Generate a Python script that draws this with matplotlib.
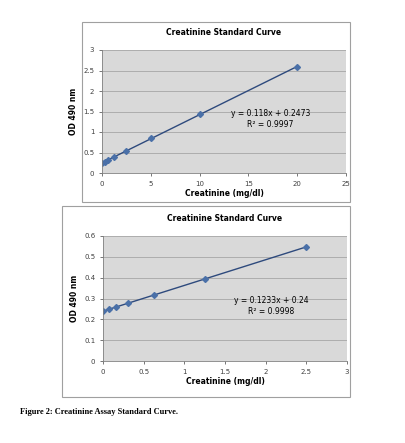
import numpy as np
import matplotlib.pyplot as plt
from matplotlib.patches import Rectangle

top_x = [0, 0.3125, 0.625, 1.25, 2.5, 5, 10, 20]
top_y = [0.24, 0.27, 0.31, 0.39, 0.54, 0.86, 1.45, 2.58]
bot_x = [0, 0.078, 0.156, 0.3125, 0.625, 1.25, 2.5]
bot_y = [0.24, 0.25, 0.257, 0.278, 0.317, 0.393, 0.548]

W, H = 405, 443
fig = plt.figure(figsize=(W / 100, H / 100), dpi=100)
plt.rcParams['font.family'] = 'DejaVu Sans'
blue = '#4a70a8'


def box(x0, y0, x1, y1):
    fig.add_artist(Rectangle((x0 / W, 1 - y1 / H), (x1 - x0) / W, (y1 - y0) / H,
                             transform=fig.transFigure, fill=False,
                             edgecolor='#a0a0a0', linewidth=0.8))


def panel(rect, xs, ys, xlim, xticks, ylim, yticks, eq, eqpos):
    x0, y0, x1, y1 = rect
    ax = fig.add_axes([x0 / W, 1 - y1 / H, (x1 - x0) / W, (y1 - y0) / H])
    ax.set_facecolor('#d9d9d9')
    coef = np.polyfit(xs, ys, 1)
    ax.plot([min(xs), max(xs)], np.polyval(coef, [min(xs), max(xs)]),
            color='#2e4a7d', linewidth=1.0)
    ax.plot(xs, ys, 'D', color=blue, markersize=3)
    ax.set_xlim(xlim)
    ax.set_ylim(ylim)
    ax.set_xticks(xticks)
    ax.set_yticks(yticks)
    ax.set_xticklabels([f'{t:g}' for t in xticks])
    ax.set_yticklabels([f'{t:g}' for t in yticks])
    ax.grid(axis='y', color='#a6a6a6', linewidth=0.6)
    ax.set_axisbelow(True)
    for s in ['top', 'right']:
        ax.spines[s].set_visible(False)
    for s in ['left', 'bottom']:
        ax.spines[s].set_color('#808080')
        ax.spines[s].set_linewidth(0.6)
    ax.tick_params(labelsize=5, colors='#404040', length=2, width=0.5)
    ax.set_xlabel('Creatinine (mg/dl)', fontsize=5.5, fontweight='bold', labelpad=2)
    ax.set_ylabel('OD 490 nm', fontsize=5.5, fontweight='bold', labelpad=4)
    ax.set_title('Creatinine Standard Curve', fontsize=5.5, fontweight='bold', pad=11)
    ax.text(eqpos[0], eqpos[1], eq, transform=ax.transAxes, fontsize=5.5,
            ha='center', va='center', linespacing=1.3)
    return ax


box(82, 22, 350, 202)
panel((102, 50, 346, 173), top_x, top_y, (0, 25), [0, 5, 10, 15, 20, 25],
      (0, 3), [0, 0.5, 1, 1.5, 2, 2.5, 3],
      'y = 0.118x + 0.2473\nR² = 0.9997', (0.69, 0.44))
box(62, 206, 350, 397)
panel((103, 236, 347, 361), bot_x, bot_y, (0, 3), [0, 0.5, 1, 1.5, 2, 2.5, 3],
      (0, 0.6), [0, 0.1, 0.2, 0.3, 0.4, 0.5, 0.6],
      'y = 0.1233x + 0.24\nR² = 0.9998', (0.69, 0.44))

fig.text(20 / W, 1 - 412 / H, 'Figure 2: Creatinine Assay Standard Curve.',
         fontsize=6, fontweight='bold', family='Liberation Serif', va='center')

fig.savefig('out.png', dpi=100)
